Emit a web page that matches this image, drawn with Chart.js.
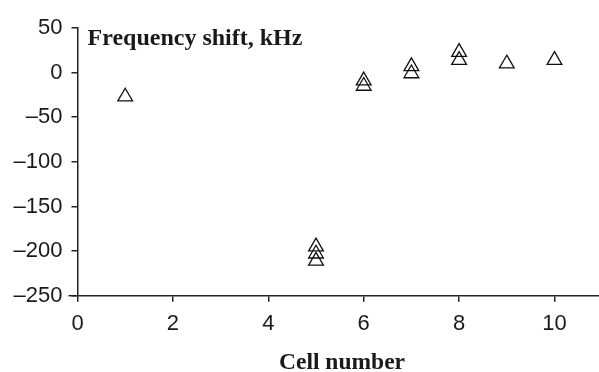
<!DOCTYPE html>
<html>
<head>
<meta charset="utf-8">
<script src="https://cdn.jsdelivr.net/npm/chart.js@4"></script>
<style>
html,body{margin:0;padding:0;background:#fff;overflow:hidden;}
#wrap{width:612px;height:372px;}
</style>
</head>
<body>
<div id="wrap"><canvas id="c" width="612" height="372"></canvas></div>
<script>
const cells  = [1, 5, 5, 5, 6, 6, 7, 7, 8, 8, 9, 10];
const shifts = [-27, -195, -203, -211, -9, -15, 7, -1, 23, 14, 10, 14];
const xTicks = [0, 2, 4, 6, 8, 10];
const yTicks = [50, 0, -50, -100, -150, -200, -250];
const yTitle = 'Frequency shift, kHz';
const xTitle = 'Cell number';

const dash = v => (v < 0 ? '\u2013' + Math.abs(v) : String(v));

const titles = {
  id: 'titles',
  afterDraw(chart) {
    const ctx = chart.ctx;
    const a = chart.chartArea;
    ctx.save();
    ctx.fillStyle = '#1a1a1a';
    ctx.font = 'bold 24px "Liberation Serif", "Times New Roman", serif';
    ctx.textBaseline = 'alphabetic';
    ctx.textAlign = 'left';
    ctx.fillText(yTitle, a.left + 10, 45);
    ctx.font = 'bold 23.5px "Liberation Serif", "Times New Roman", serif';
    ctx.textAlign = 'center';
    ctx.fillText(xTitle, 342, 369);
    ctx.strokeStyle = '#222';
    ctx.lineWidth = 1.5;
    ctx.beginPath();
    ctx.moveTo(a.left - 9, a.bottom);
    ctx.lineTo(a.left, a.bottom);
    ctx.stroke();
    ctx.restore();
  }
};

new Chart(document.getElementById('c'), {
  type: 'scatter',
  data: {
    datasets: [{
      data: cells.map((c, i) => ({x: c, y: shifts[i]})),
      pointStyle: 'triangle',
      pointRadius: 8.5,
      pointHoverRadius: 8.5,
      backgroundColor: 'rgba(0,0,0,0)',
      borderColor: '#111',
      borderWidth: 1.3
    }]
  },
  options: {
    responsive: false,
    animation: false,
    events: [],
    layout: {padding: {top: 28, right: 1.5, bottom: 0, left: 0}},
    plugins: {legend: {display: false}, tooltip: {enabled: false}},
    scales: {
      x: {
        type: 'linear',
        min: 0, max: 11,
        afterBuildTicks: s => { s.ticks = xTicks.map(v => ({value: v})); },
        afterFit: s => { s.height = 76.3; },
        grid: {display: true, drawOnChartArea: false, drawTicks: true, tickLength: 6, color: '#222', lineWidth: 1.5},
        border: {display: true, color: '#222', width: 1.5},
        ticks: {
          color: '#1a1a1a', padding: 9,
          font: {family: '"Liberation Sans", Arial, sans-serif', size: 22},
          callback: v => dash(v)
        }
      },
      y: {
        type: 'linear',
        min: -250, max: 50,
        afterBuildTicks: s => { s.ticks = yTicks.map(v => ({value: v})); },
        afterFit: s => { s.width = 77.5; },
        grid: {display: true, drawOnChartArea: false, drawTicks: true, tickLength: 6, color: '#222', lineWidth: 1.5},
        border: {display: true, color: '#222', width: 1.5},
        ticks: {
          color: '#1a1a1a', padding: 9,
          font: {family: '"Liberation Sans", Arial, sans-serif', size: 22},
          callback: v => dash(v)
        }
      }
    }
  },
  plugins: [titles]
});
</script>
</body>
</html>
